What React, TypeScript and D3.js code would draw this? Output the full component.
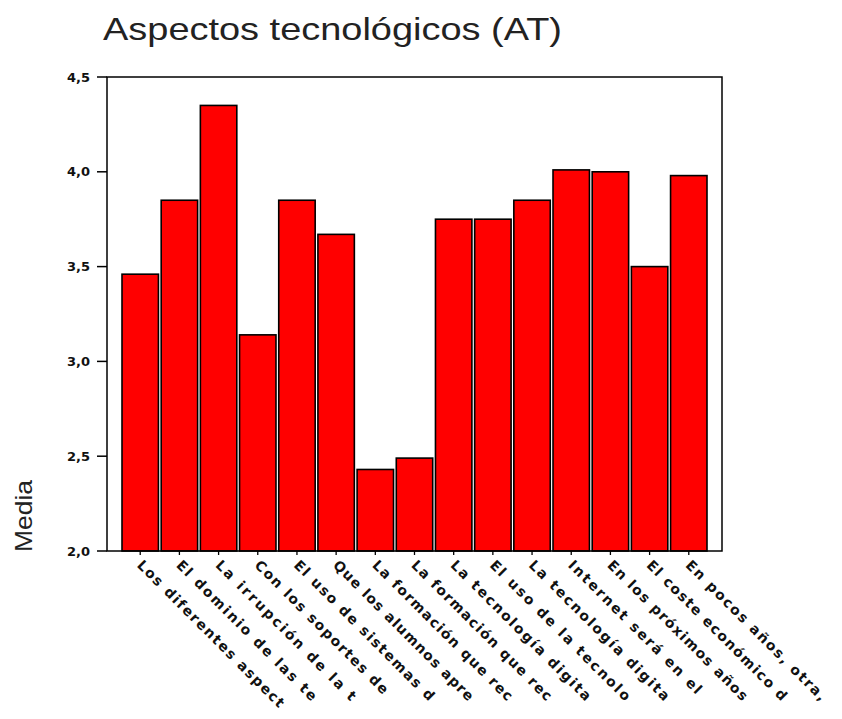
import React from "react";
import * as d3 from "d3";

const title = "Aspectos tecnológicos (AT)";
const yLabel = "Media";
const categories = [
  "Los diferentes aspect",
  "El dominio de las te",
  "La irrupción de la t",
  "Con los soportes de",
  "El uso de sistemas d",
  "Que los alumnos apre",
  "La formación que rec",
  "La formación que rec ",
  "La tecnología digita",
  "El uso de la tecnolo",
  "La tecnología digita ",
  "Internet será en el",
  "En los próximos años",
  "El coste económico d",
  "En pocos años, otra,",
];
const values = [3.46, 3.85, 4.35, 3.14, 3.85, 3.67, 2.43, 2.49, 3.75, 3.75, 3.85, 4.01, 4.0, 3.5, 3.98];
const yTicks = [2.0, 2.5, 3.0, 3.5, 4.0, 4.5];

const W = 842;
const H = 719;
const frame = { left: 107, right: 722, top: 77, bottom: 551 };

export default function App() {
  const y = d3.scaleLinear().domain([2, 4.5]).range([frame.bottom, frame.top]);
  const x = d3
    .scaleBand<number>()
    .domain(d3.range(categories.length))
    .range([frame.left + 15, frame.right - 15])
    .paddingInner(0.07)
    .paddingOuter(0);
  const fmt = (v: number) => d3.format(".1f")(v).replace(".", ",");

  return (
    <svg
      width={W}
      height={H}
      style={{ position: "absolute", left: 0, top: 0, background: "#fff" }}
      fontFamily="'Liberation Sans', Arial, sans-serif"
    >
      <text x={103} y={40} fontSize={32} fill="#222" textLength={459} lengthAdjust="spacingAndGlyphs">
        {title}
      </text>
      <text
        transform={`translate(32,516) rotate(-90)`}
        textAnchor="middle"
        fontSize={24}
        fill="#222"
        textLength={72}
        lengthAdjust="spacingAndGlyphs"
      >
        {yLabel}
      </text>

      {values.map((v, i) => (
        <rect
          key={i}
          x={x(i)!}
          y={y(v)}
          width={x.bandwidth()}
          height={frame.bottom - y(v)}
          fill="#ff0000"
          stroke="#000"
          strokeWidth={1.6}
        />
      ))}

      <rect
        x={frame.left}
        y={frame.top}
        width={frame.right - frame.left}
        height={frame.bottom - frame.top}
        fill="none"
        stroke="#000"
        strokeWidth={1.5}
      />

      {yTicks.map((t) => (
        <g key={t}>
          <line x1={frame.left - 10} x2={frame.left} y1={y(t)} y2={y(t)} stroke="#000" strokeWidth={1.5} />
          <text
            x={frame.left - 17}
            y={y(t)}
            dy="0.35em"
            textAnchor="end"
            fontSize={13}
            fontWeight="bold"
            fontFamily="'DejaVu Sans', sans-serif"
            fill="#111"
          >
            {fmt(t)}
          </text>
        </g>
      ))}

      {categories.map((c, i) => {
        const cx = x(i)! + x.bandwidth() / 2;
        return (
          <g key={i}>
            <line x1={cx} x2={cx} y1={frame.bottom} y2={frame.bottom + 4} stroke="#000" strokeWidth={1.3} />
            <text
              transform={`translate(${cx + 3},${frame.bottom + 8}) rotate(45)`}
              dy="0.7em"
              fontSize={14}
              fontWeight="bold"
              fontFamily="'DejaVu Sans', sans-serif"
              fill="#111"
              textLength={c.trim().length * 9.6}
              lengthAdjust="spacing"
            >
              {c.trim()}
            </text>
          </g>
        );
      })}
    </svg>
  );
}
